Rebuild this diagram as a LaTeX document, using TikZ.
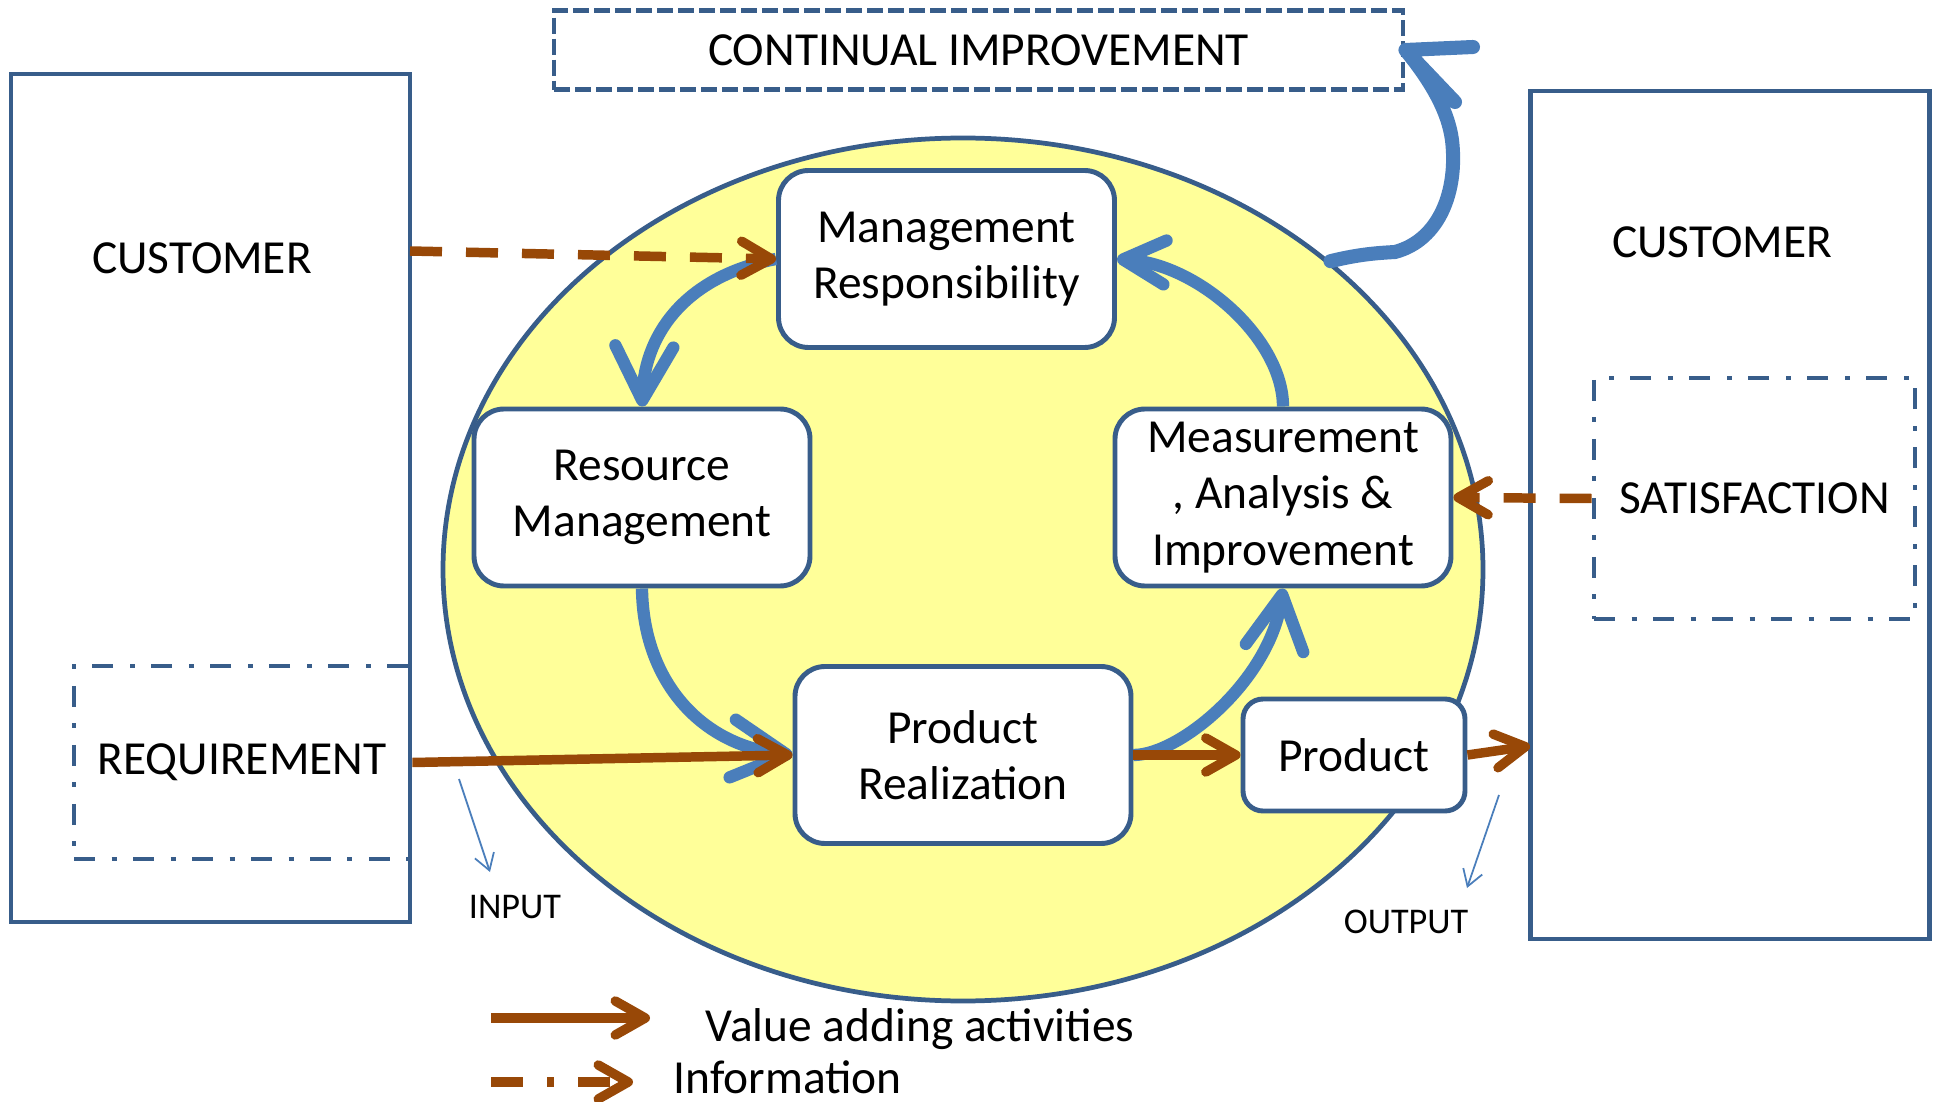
\documentclass[tikz,border=0pt]{standalone}
\usepackage{fontspec}
\setmainfont{Carlito}
\usetikzlibrary{arrows.meta}
\usetikzlibrary{shapes.geometric}
\definecolor{boxblue}{HTML}{385D8A}
\definecolor{arrowblue}{HTML}{4A7EBB}
\definecolor{valuebrown}{HTML}{984807}
\definecolor{circleyellow}{HTML}{FFFF99}

\begin{document}
\begin{tikzpicture}[x=0.1mm,y=-0.1mm,
txt/.style={font=\fontsize{13.5}{16}\selectfont},
small/.style={font=\fontsize{10.3}{12}\selectfont},
customer/.style={draw=boxblue,line width=1.35pt,minimum width=39.9mm,minimum height=84.8mm},
wish/.style={draw=boxblue,line width=1.35pt,dash pattern=on 2.1mm off 1.65mm on 0.5mm off 1.65mm,txt},
process/.style={draw=boxblue,fill=white,line width=1.4pt,rounded corners=3mm,minimum width=33.6mm,minimum height=17.7mm,align=center,txt},
flow/.style={draw=arrowblue,line width=3.5pt,-{Straight Barb[length=5.4mm,width=5.8mm,round]}},
value/.style={draw=valuebrown,line width=2.7pt,-{Straight Barb[length=3mm,width=3.4mm,round]}},
info/.style={value,dash pattern=on 3.2mm off 2.4mm},
note/.style={draw=arrowblue,line width=0.5pt,-{Straight Barb[length=1.6mm,width=2mm]}}]
\useasboundingbox (0,0) rectangle (1934,1102);
\node[customer] (custL) at (210.5,498) {};
\node[customer] (custR) at (1730,515) {};
\node[txt] (custLtxt) at (202,258) {CUSTOMER};
\node[txt] (custRtxt) at (1722,242) {CUSTOMER};
\node[wish,minimum width=33.6mm,minimum height=19.3mm] (req) at (242,762.5) {REQUIREMENT};
\node[wish,minimum width=32.1mm,minimum height=24.1mm] (sat) at (1754.5,498.5) {SATISFACTION};
\node[draw=boxblue,line width=1.4pt,dash pattern=on 1.6mm off 0.5mm,minimum width=84.9mm,minimum height=7.95mm,txt] (ci) at (978.5,50) {CONTINUAL IMPROVEMENT};
\node[ellipse,draw=boxblue,fill=circleyellow,line width=1.35pt,minimum width=104mm,minimum height=86.3mm] (ell) at (963,569.5) {};
\node[process] (mgmt) at (946.5,259) {Management\\Responsibility};
\node[process] (res) at (642,497.5) {Resource\\Management};
\node[process] (meas) at (1283,497.5) {Measurement\\, Analysis \&\\Improvement};
\node[process] (real) at (963,755) {Product\\Realization};
\node[process,rounded corners=2mm,minimum width=22.2mm,minimum height=11.2mm] (prod) at (1354,755) {Product};
\draw[flow] (mgmt.west) .. controls (690,275) and (645,330) .. (res.north);
\draw[flow,-{Straight Barb[length=4.2mm,width=4.4mm,round]}] (meas.north) .. controls (1283,340) and (1200,265) .. (mgmt.east);
\draw[flow] (res.south) .. controls (643,680) and (700,745) .. (real.west);
\draw[flow] (real.east) .. controls (1180,755) and (1270,680) .. (meas.south);
\draw[arrowblue,line width=4pt,line cap=round,line join=round] (ell.40) .. controls (1360,254) and (1378,253) .. (1395,252) .. controls (1440,240) and (1458,190) .. (1452,140) .. controls (1448,110) and (1430,80) .. (ci.east) -- (1473,47) (ci.east) -- (1455,102);
\coordinate (askL) at (410,251);
\draw[info] (askL) -- (mgmt.west);
\draw[value] (req.east) -- (real.west);
\draw[value] (real.east) -- (prod.west);
\coordinate (deliverR) at (1530,746);
\draw[value] (prod.east) -- (deliverR);
\draw[info] (sat.west) -- (meas.east);
\coordinate (in1) at (459,779);
\coordinate (in2) at (490,872);
\draw[note] (in1) -- (in2);
\node[small] (inlbl) at (515,907) {INPUT};
\coordinate (out1) at (1499,795);
\coordinate (out2) at (1467,888);
\draw[note] (out1) -- (out2);
\node[small] (outlbl) at (1406,922) {OUTPUT};
\coordinate (lv1) at (491,1018);
\coordinate (lv2) at (650,1018);
\draw[value] (lv1) -- (lv2);
\node[txt,anchor=base west,inner sep=0] (lvtxt) at (705,1041) {Value adding activities};
\coordinate (li1) at (491,1082);
\coordinate (li2) at (633,1082);
\draw[value,dash pattern=on 3.2mm off 2.4mm on 0.7mm off 2.4mm] (li1) -- (li2);
\node[txt,anchor=base west,inner sep=0] (litxt) at (673,1093) {Information};
\end{tikzpicture}
\end{document}
